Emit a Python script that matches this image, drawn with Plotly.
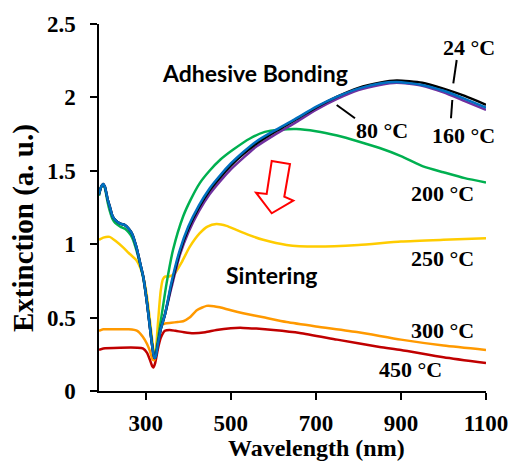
import plotly.graph_objects as go

# ---------------- data ----------------
wl_start = [190, 195, 200, 204, 210, 216, 222, 228, 240, 251, 260, 268, 278, 286, 294, 302, 309, 315, 320, 323, 328, 335, 345]
ext_start_blue = [1.34, 1.39, 1.41, 1.39, 1.31, 1.25, 1.19, 1.165, 1.14, 1.13, 1.105, 1.07, 0.98, 0.88, 0.78, 0.62, 0.45, 0.31, 0.225, 0.23, 0.31, 0.42, 0.52]

wl_rise = [360, 380, 400, 425, 450, 475, 500, 530, 560, 600, 650, 700, 750, 800, 850, 890, 950, 1000, 1050, 1100]
ext_rise_24 = [0.72, 0.945, 1.105, 1.25, 1.365, 1.455, 1.535, 1.615, 1.685, 1.76, 1.845, 1.93, 2.005, 2.065, 2.10, 2.115, 2.10, 2.06, 2.01, 1.95]
ext_rise_80 = [0.70, 0.925, 1.08, 1.225, 1.34, 1.43, 1.51, 1.59, 1.665, 1.74, 1.825, 1.915, 1.99, 2.05, 2.085, 2.10, 2.08, 2.035, 1.975, 1.915]
ext_rise_160 = [0.735, 0.96, 1.12, 1.265, 1.38, 1.47, 1.55, 1.63, 1.70, 1.77, 1.85, 1.935, 2.005, 2.06, 2.095, 2.105, 2.085, 2.045, 1.99, 1.93]

wl_200 = [190, 195, 200, 204, 210, 216, 222, 228, 240, 251, 260, 268, 278, 286, 294, 302, 309, 315, 320, 323, 328, 337, 349, 364, 388, 405, 427, 450, 475, 505, 545, 580, 615, 654, 700, 750, 800, 850, 900, 952, 1000, 1050, 1100]
ext_200 = [1.33, 1.39, 1.405, 1.38, 1.29, 1.22, 1.17, 1.145, 1.12, 1.105, 1.08, 1.045, 0.96, 0.87, 0.77, 0.62, 0.46, 0.32, 0.235, 0.25, 0.34, 0.51, 0.735, 0.96, 1.19, 1.30, 1.416, 1.50, 1.575, 1.643, 1.72, 1.765, 1.78, 1.785, 1.77, 1.74, 1.70, 1.655, 1.60, 1.53, 1.49, 1.45, 1.42]

wl_250 = [190, 200, 215, 230, 246, 260, 278, 292, 302, 309, 315, 320, 323, 327, 331, 335, 340, 346, 355, 368, 385, 403, 427, 445, 466, 490, 513, 545, 576, 631, 700, 800, 900, 1000, 1100]
ext_250 = [1.03, 1.045, 1.05, 1.02, 0.98, 0.94, 0.89, 0.80, 0.66, 0.50, 0.35, 0.25, 0.26, 0.40, 0.55, 0.68, 0.76, 0.78, 0.78, 0.80, 0.88, 0.98, 1.075, 1.12, 1.138, 1.125, 1.097, 1.06, 1.03, 0.995, 0.984, 0.995, 1.018, 1.03, 1.04]

wl_300 = [190, 200, 230, 260, 280, 293, 303, 310, 316, 320, 325, 333, 345, 360, 375, 388, 403, 420, 443, 460, 474, 500, 529, 580, 631, 700, 800, 900, 1000, 1100]
ext_300 = [0.41, 0.42, 0.42, 0.42, 0.41, 0.37, 0.32, 0.27, 0.215, 0.21, 0.30, 0.44, 0.46, 0.465, 0.47, 0.475, 0.50, 0.55, 0.58, 0.578, 0.57, 0.55, 0.53, 0.50, 0.47, 0.44, 0.40, 0.35, 0.31, 0.28]

wl_450 = [190, 200, 240, 280, 293, 303, 310, 315, 318, 322, 328, 335, 345, 356, 370, 390, 411, 440, 466, 500, 529, 560, 600, 662, 750, 850, 900, 1000, 1100]
ext_450 = [0.28, 0.29, 0.295, 0.295, 0.29, 0.26, 0.21, 0.17, 0.16, 0.19, 0.28, 0.36, 0.41, 0.416, 0.41, 0.40, 0.393, 0.40, 0.416, 0.428, 0.43, 0.425, 0.415, 0.395, 0.35, 0.30, 0.28, 0.23, 0.19]

x_ticks = [300, 500, 700, 900, 1100]
y_ticks = [0, 0.5, 1, 1.5, 2, 2.5]
y_tick_labels = ["0", "0.5", "1", "1.5", "2", "2.5"]

series = [
    ("450 °C", wl_450, ext_450, "#C00000"),
    ("300 °C", wl_300, ext_300, "#FF9900"),
    ("250 °C", wl_250, ext_250, "#FFCC00"),
    ("200 °C", wl_200, ext_200, "#00B050"),
    ("80 °C", wl_start + wl_rise, ext_start_blue + ext_rise_80, "#7030A0"),
    ("24 °C", wl_start + wl_rise, ext_start_blue + ext_rise_24, "#000000"),
    ("160 °C", wl_start + wl_rise, ext_start_blue + ext_rise_160, "#0070C0"),
]

# ---------------- figure ----------------
W, H = 513, 461
L, R, T, B = 99, 27, 24, 70

fig = go.Figure()
for name, xs, ys, col in series:
    fig.add_trace(go.Scatter(x=xs, y=ys, mode="lines", name=name,
                             line=dict(color=col, width=2.5, shape="spline", smoothing=0.6),
                             showlegend=False))

def px(xp):
    return (xp - L) / (W - L - R)

def py(yp):
    return (H - B - yp) / (H - T - B)

serif = "Liberation Serif, Times New Roman, serif"
sans = "Lato, Carlito, sans-serif"

ann = []
def label(text, xp, yp, size=22, family=serif, xanchor="center", angle=0):
    ann.append(dict(text=text, x=px(xp), y=py(yp), xref="paper", yref="paper",
                    showarrow=False, xanchor=xanchor, yanchor="middle", textangle=angle,
                    font=dict(family=family, size=size, color="black", weight="bold")))

label("24 °C", 469, 47)
label("80 °C", 382, 130)
label("160 °C", 463, 135)
label("200 °C", 442, 193)
label("250 °C", 442, 258)
label("300 °C", 442, 330)
label("450 °C", 410, 369)
label("Adhesive Bonding", 255, 73, size=23, family=sans)
label("Sintering", 272, 275, size=23, family=sans)
label("Wavelength (nm)", 316, 448, size=24)
label("Extinction (a. u.)", 23, 228, size=29, angle=-90)

shapes = []
for (x0, y0, x1, y1) in [(456.7, 60, 453.3, 83.3), (452.3, 100, 451, 118.3), (336.7, 105, 355, 118.3)]:
    shapes.append(dict(type="line", xref="paper", yref="paper",
                       x0=px(x0), y0=py(y0), x1=px(x1), y1=py(y1),
                       line=dict(color="black", width=2)))

arrow_pts = [(271.7, 161), (290, 164), (284.3, 196.7), (293.3, 200.7),
             (271.7, 213.3), (256, 192.7), (266.7, 194)]
path = "M " + " L ".join(f"{px(a):.4f},{py(b):.4f}" for a, b in arrow_pts) + " Z"
shapes.append(dict(type="path", xref="paper", yref="paper", path=path,
                   line=dict(color="#FF0000", width=2), fillcolor="rgba(0,0,0,0)"))

fig.update_layout(
    width=W, height=H,
    margin=dict(l=L, r=R, t=T, b=B),
    plot_bgcolor="white", paper_bgcolor="white",
    annotations=ann, shapes=shapes,
    xaxis=dict(range=[190, 1100], tickmode="array", tickvals=x_ticks,
               showgrid=False, zeroline=False, showline=True, linecolor="black", linewidth=1.5,
               ticks="outside", ticklen=7, tickwidth=1.5, tickcolor="black",
               ticklabelstandoff=4, automargin=False,
               tickfont=dict(family=serif, size=23, color="black", weight="bold")),
    yaxis=dict(range=[0, 2.5], tickmode="array", tickvals=y_ticks, ticktext=y_tick_labels,
               showgrid=False, zeroline=False, showline=True, linecolor="black", linewidth=1.5,
               ticks="outside", ticklen=7, tickwidth=1.5, tickcolor="black",
               ticklabelstandoff=10, automargin=False,
               tickfont=dict(family=serif, size=23, color="black", weight="bold")),
)

fig.write_html("out.html", config={"displayModeBar": False},
               post_script="document.body.style.margin='0px';document.body.style.overflow='hidden';")
